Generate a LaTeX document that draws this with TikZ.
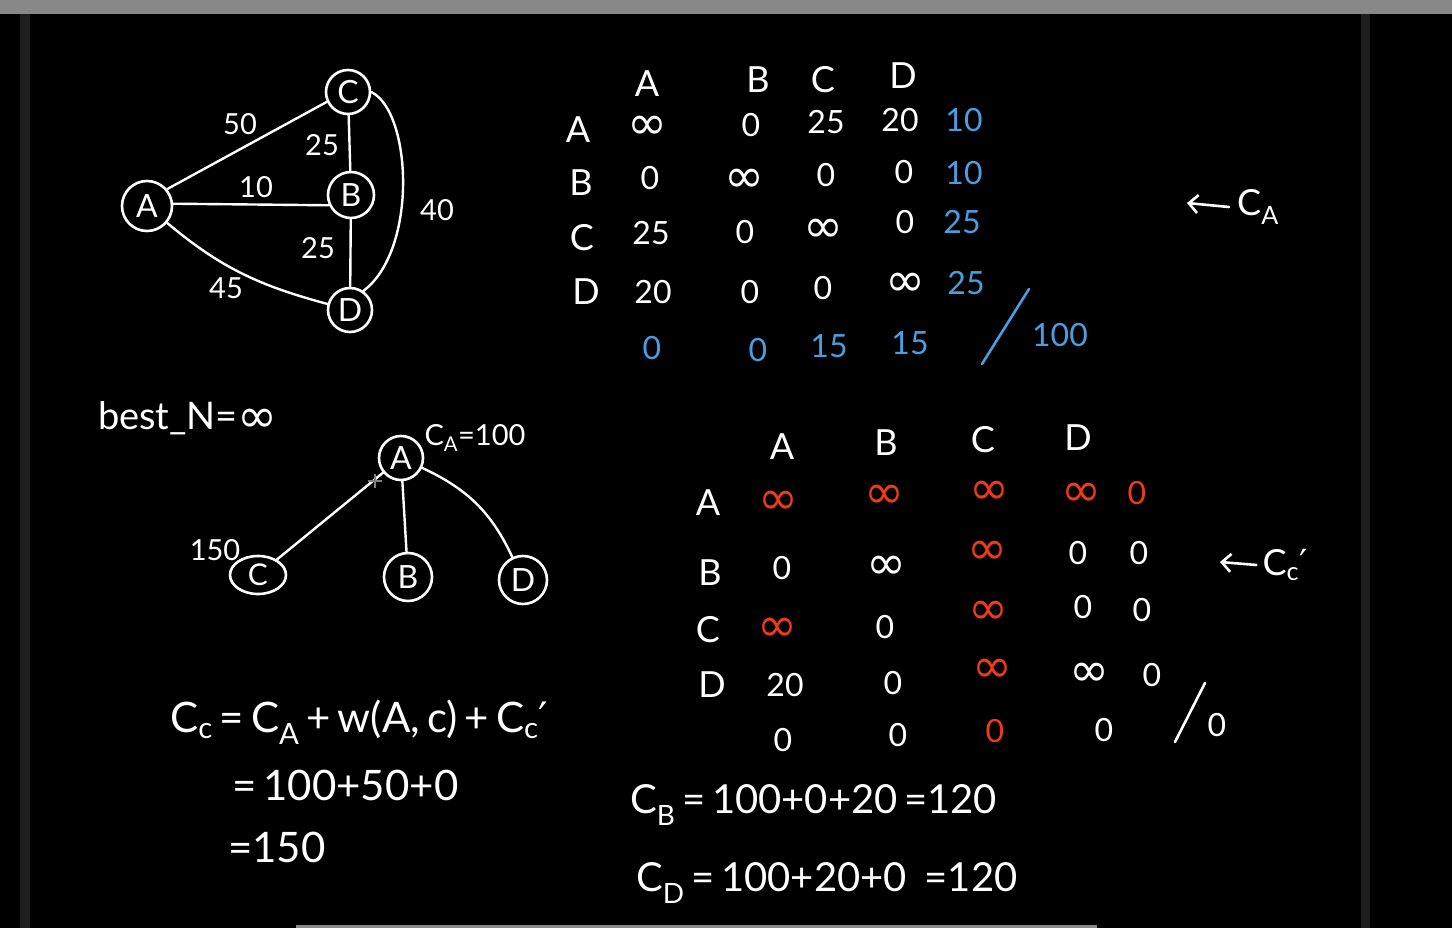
\documentclass[tikz,border=0pt]{standalone}
\usepackage{fontspec}
\setmainfont{Lato}
\newfontfamily\dvs{DejaVu Sans}
\usetikzlibrary{arrows.meta,shapes.geometric}
\definecolor{bgray}{HTML}{888888}
\definecolor{edgegray}{HTML}{1E1E1E}
\definecolor{penblue}{HTML}{4A9EE0}
\definecolor{penred}{HTML}{F03A17}
\newcommand{\fsz}[1]{\fontsize{#1}{#1}\selectfont}
\newcommand{\infy}{\vphantom{0}\smash{\raisebox{-3.5pt}{\dvs\fontsize{48}{48}\selectfont ∞}}}
\newcommand{\prm}{{\dvs ′}}
\tikzset{
  ink/.style={text=white, font=\fsz{32}, inner sep=0pt},
  hdr/.style={text=white, font=\fsz{36}, inner sep=0pt},
  bl/.style={ink, text=penblue},
  rd/.style={ink, text=penred},
  lbl/.style={text=white, font=\fsz{29}, inner sep=0pt},
  eq/.style={text=white, font=\fsz{42}, inner sep=0pt, anchor=west},
  vtx/.style={draw=white, line width=2.6pt, circle, text=white, font=\fsz{32}, inner sep=0pt},
  vtxe/.style={draw=white, line width=2.6pt, ellipse, text=white, font=\fsz{30}, inner sep=0pt},
  edge/.style={draw=white, line width=2.4pt, line cap=round},
  pen/.style={line width=2.6pt, line cap=round},
  arr/.style={draw=white, line width=2.6pt, line cap=round, -{Straight Barb[length=9pt,width=18pt,line width=2.6pt]}},
}
\begin{document}
\begin{tikzpicture}[x=1pt,y=-1pt]
\useasboundingbox (0,0) rectangle (1452,928);
\fill[black] (0,0) rectangle (1452,928);
\fill[bgray] (0,0) rectangle (1452,14);
\fill[edgegray] (20,14) rectangle (30,928);
\fill[edgegray] (1361,14) rectangle (1370,928);
\fill[bgray] (296,925) rectangle (1097,928);

% ---------- graph ----------
\node[vtx, minimum size=50pt] (gA) at (147,206) {A};
\node[vtx, minimum size=44pt] (gC) at (348,92) {C};
\node[vtx, minimum size=46pt] (gB) at (351,195) {B};
\node[vtx, minimum size=44pt] (gD) at (350,310) {D};
\draw[edge] (gA.40) -- (gC.205);
\draw[edge] (gA.5) -- (gB.205);
\draw[edge] (gA) to[out=-40,in=165] (gD);
\draw[edge] (gC) -- (gB);
\draw[edge] (gB) -- (gD);
\draw[edge] (gC.east) .. controls (412,112) and (418,250) .. (gD.55);
\node[lbl] (w50) at (240,124) {50};
\node[lbl] (w25a) at (322,145) {25};
\node[lbl] (w10) at (256,187) {10};
\node[lbl] (w40) at (437,210) {40};
\node[lbl] (w25b) at (318,248) {25};
\node[lbl] (w45) at (226,288) {45};

% ---------- matrix 1 ----------
\node[hdr] (h1A) at (647,84) {A};
\node[hdr] (h1B) at (758,80) {B};
\node[hdr] (h1C) at (823,80) {C};
\node[hdr] (h1D) at (903,76) {D};
\node[hdr] (r1A) at (578,130) {A};
\node[hdr] (r1B) at (581,183) {B};
\node[hdr] (r1C) at (582,238) {C};
\node[hdr] (r1D) at (586,292) {D};
\node[ink] (m11) at (647,125) {\infy};
\node[ink] (m12) at (751,125) {0};
\node[ink] (m13) at (826,122) {25};
\node[ink] (m14) at (900,120) {20};
\node[bl]  (m15) at (964,120) {10};
\node[ink] (m21) at (650,178) {0};
\node[ink] (m22) at (744,178) {\infy};
\node[ink] (m23) at (826,175) {0};
\node[ink] (m24) at (904,172) {0};
\node[bl]  (m25) at (964,173) {10};
\node[ink] (m31) at (651,233) {25};
\node[ink] (m32) at (745,232) {0};
\node[ink] (m33) at (823,228) {\infy};
\node[ink] (m34) at (905,222) {0};
\node[bl]  (m35) at (962,222) {25};
\node[ink] (m41) at (653,292) {20};
\node[ink] (m42) at (750,292) {0};
\node[ink] (m43) at (823,288) {0};
\node[ink] (m44) at (905,282) {\infy};
\node[bl]  (m45) at (966,283) {25};
\node[bl]  (m51) at (652,348) {0};
\node[bl]  (m52) at (758,350) {0};
\node[bl]  (m53) at (829,346) {15};
\node[bl]  (m54) at (910,343) {15};
\draw[pen, penblue] (982,364) -- (1029,289);
\node[bl] (lb1) at (1060,335) {100};
\node[hdr] (CA) at (1258,207) {C\textsubscript{A}};
\coordinate (caTip) at (1187,203);
\draw[arr] (CA.west) ++(-8,0) -- (caTip);

% ---------- tree ----------
\node[text=white, font=\fsz{38}, inner sep=0pt] (bestN) at (188,418) {best\_N=\infy};
\node[vtx, minimum size=44pt] (tA) at (401,458) {A};
\node[vtxe, minimum width=56pt, minimum height=38pt] (tC) at (258,575) {C};
\node[vtx, minimum size=48pt] (tB) at (408,577) {B};
\node[vtx, minimum size=48pt] (tD) at (523,580) {D};
\draw[edge] (tA) -- (tC);
\draw[edge] (tA) -- (tB);
\draw[edge] (tA) to[out=-25,in=115] (tD);
\node[lbl] (tCA) at (475,438) {C\textsubscript{A}=100};
\node[lbl] (t150) at (215,550) {150};
\draw[line width=1.2pt, gray] (368,481) -- (382,481) (375,474) -- (375,488);

% ---------- matrix 2 ----------
\node[hdr] (h2A) at (782,447) {A};
\node[hdr] (h2B) at (886,443) {B};
\node[hdr] (h2C) at (983,440) {C};
\node[hdr] (h2D) at (1078,438) {D};
\node[hdr] (r2A) at (708,503) {A};
\node[hdr] (r2B) at (710,573) {B};
\node[hdr] (r2C) at (708,630) {C};
\node[hdr] (r2D) at (712,685) {D};
\node[rd]  (n11) at (778,500) {\infy};
\node[rd]  (n12) at (884,494) {\infy};
\node[rd]  (n13) at (989,490) {\infy};
\node[rd]  (n14) at (1081,492) {\infy};
\node[rd]  (n15) at (1137,493) {0};
\node[ink] (n21) at (782,568) {0};
\node[ink] (n22) at (886,565) {\infy};
\node[rd]  (n23) at (987,550) {\infy};
\node[ink] (n24) at (1078,553) {0};
\node[ink] (n25) at (1139,553) {0};
\node[rd]  (n31) at (777,627) {\infy};
\node[ink] (n32) at (885,627) {0};
\node[rd]  (n33) at (988,610) {\infy};
\node[ink] (n34) at (1083,607) {0};
\node[ink] (n35) at (1142,610) {0};
\node[ink] (n41) at (785,685) {20};
\node[ink] (n42) at (893,683) {0};
\node[rd]  (n43) at (992,668) {\infy};
\node[ink] (n44) at (1089,672) {\infy};
\node[ink] (n45) at (1152,675) {0};
\node[ink] (n51) at (783,740) {0};
\node[ink] (n52) at (898,735) {0};
\node[rd]  (n53) at (995,731) {0};
\node[ink] (n54) at (1104,730) {0};
\draw[pen, white] (1175,742) -- (1205,683);
\node[ink] (lb2) at (1217,725) {0};
\node[hdr] (Cc) at (1285,565) {C\textsubscript{c}\prm};
\coordinate (ccTip) at (1220,562);
\draw[arr] (Cc.west) ++(-6,0) -- (ccTip);

% ---------- equations ----------
\node[eq] (e1) at (170,722) {C\textsubscript{c}\,=\,C\textsubscript{A}\,+\,w(A,\,c)\,+\,C\textsubscript{c}\prm};
\node[eq] (e2) at (232,785) {=\,100+50+0};
\node[eq] (e3) at (228,847) {=150};
\node[eq, font=\fsz{40}] (e4) at (630,805) {C\textsubscript{B}\,=\,100+0+20\,=120};
\node[eq, font=\fsz{40}] (e5) at (636,883) {C\textsubscript{D}\,=\,100+20+0\;\,=120};
\end{tikzpicture}
\end{document}
